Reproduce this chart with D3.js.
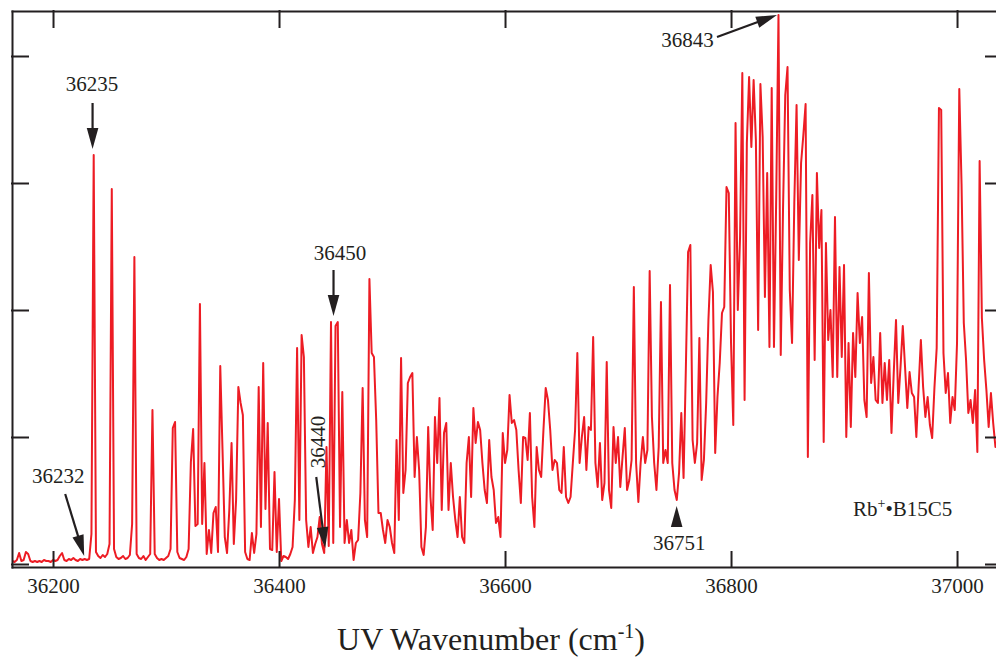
<!DOCTYPE html>
<html>
<head>
<meta charset="utf-8">
<script src="https://cdn.jsdelivr.net/npm/d3@7"></script>
<style>
  body { margin: 0; background: #fff; }
  svg { display: block; font-family: "Liberation Serif", "Times New Roman", serif; }
</style>
</head>
<body>
<script>
var width = 996;
var height = 662;
var ink = '#231f20';
var red = '#ed1c24';

// spectrum sampled every 2 cm-1, intensity in arbitrary units
var wnStep = 2;
var band1 = [ // from 36164
  3, 2, 4, 11, 3, 4, 12, 10, 3, 2,
  3, 2, 3, 2, 4, 3, 3, 2, 4, 3,
  4, 8, 11, 4, 3, 5, 4, 6, 4, 3,
  5, 4, 5, 4, 5, 30, 409, 12, 8, 6,
  9, 7, 10, 20, 375, 15, 7, 5, 6, 8,
  5, 6, 9, 40, 307, 10, 6, 5, 8, 4,
  7, 10, 154, 10, 6, 4, 5, 4, 6, 8,
  15, 136, 142, 12, 6, 5, 4, 7, 15, 102,
  135, 38, 40, 260, 40, 101];
var band2 = [ // from 36336
  10, 34, 11, 51, 57, 12, 198, 114, 27, 11,
  54, 121, 20, 64, 177, 161, 149, 12, 5, 4,
  31, 11, 30, 177, 37, 201, 55, 141, 15, 14,
  92, 12, 65, 3, 8, 7, 5, 10, 17, 64,
  216, 44, 229, 207, 44, 17, 37, 11, 20, 27,
  47, 20, 11, 117, 18, 242, 21, 238, 242, 37,
  172, 21, 44, 21, 34, 4, 21, 24, 71, 176,
  44, 27, 285, 211, 207, 144, 51, 51, 34, 21,
  44, 37];
var band3 = [ // from 36500
  21, 11, 124, 44, 206, 71, 94, 181, 187, 191,
  87, 127, 94, 17, 9, 37, 137, 67, 34, 147,
  101, 166, 54, 131, 141, 54, 101, 67, 44, 27,
  67, 27, 21, 101, 127, 67, 156, 121, 142, 134,
  101, 74, 61, 124, 87, 74, 41, 47, 27, 131,
  101, 114, 169, 141, 144, 134, 94, 61, 127, 126,
  104, 151, 67, 37, 117, 94, 87, 134, 176, 164,
  134, 94, 104, 101, 74, 71, 117, 67, 61, 67,
  101, 134, 211, 101, 127, 147, 94, 137, 134, 227,
  101, 77, 121, 64, 81, 202, 74, 56, 137, 101];
var band4 = [ // from 36700
  127, 77, 107, 136, 74, 84, 104, 277, 101, 62,
  101, 127, 101, 114, 293, 147, 101, 74, 117, 262,
  101, 114, 101, 279, 101, 74, 64, 91, 151, 86,
  194, 312, 319, 124, 101, 121, 226, 84, 104, 161,
  244, 299, 272, 111, 167, 201, 251, 257, 377, 371,
  221, 139, 441, 254, 327, 491, 164, 421, 487, 417,
  484, 424, 234, 480, 427, 267, 391, 217, 476, 217,
  367, 549, 209, 354, 469, 497, 274, 221, 361, 459,
  304, 401, 429, 460, 107, 321, 369, 204, 391, 316,
  354, 122, 321, 224, 254, 187, 347, 187, 297, 207];
var band5 = [ // from 36900
  299, 127, 221, 137, 231, 187, 271, 221, 247, 164,
  147, 291, 181, 207, 164, 161, 231, 161, 201, 164,
  204, 131, 191, 244, 161, 197, 238, 197, 156, 192,
  171, 167, 127, 177, 224, 177, 147, 167, 139, 126,
  176, 216, 456, 454, 211, 171, 191, 141, 167, 154,
  221, 475, 380, 241, 204, 151, 164, 141, 174, 112,
  403, 246, 204, 174, 137, 171, 141, 117, 120];
var bandStarts = [36164, 36336, 36500, 36700, 36900];

var xTicks = [36200, 36400, 36600, 36800, 37000];
var yTicks = [0, 127, 254, 381, 508];
var peakLabels = ['36235', '36232', '36440', '36450', '36751', '36843'];
var peakWn = [36235, 36232, 36440, 36450, 36751, 36843];

var spectrum = [];
[band1, band2, band3, band4, band5].forEach(function (b, k) {
  b.forEach(function (v, i) {
    spectrum.push([bandStarts[k] + i * wnStep, v]);
  });
});

var svg = d3.select('body')
            .append('svg')
            .attr('width', width)
            .attr('height', height);

var plot = { left: 12, right: 1002, top: 11, bottom: 567 };

var xScale = d3.scaleLinear()
               .domain([36163.7, 37039.8])
               .range([plot.left, plot.right]);
var yScale = d3.scaleLinear()
               .domain([-3, 553])
               .range([plot.bottom, plot.top]);

svg.append('clipPath').attr('id', 'clip')
   .append('rect')
   .attr('x', plot.left).attr('y', plot.top)
   .attr('width', plot.right - plot.left)
   .attr('height', plot.bottom - plot.top);

var line = d3.line()
             .x(function (d) { return xScale(d[0]); })
             .y(function (d) { return yScale(d[1]); });

svg.append('path')
   .datum(spectrum)
   .attr('clip-path', 'url(#clip)')
   .attr('d', line)
   .attr('fill', 'none')
   .attr('stroke', red)
   .attr('stroke-width', 2)
   .attr('stroke-linejoin', 'round');

// frame: four axes with inward ticks
function styleAxis(g) {
  g.selectAll('path, line').attr('stroke', ink).attr('stroke-width', 2)
   .attr('stroke-linecap', 'square');
  g.attr('font-family', '"Liberation Serif", serif').attr('font-size', 21);
  g.selectAll('text').attr('fill', ink);
}

svg.append('g')
   .attr('transform', 'translate(0,' + plot.bottom + ')')
   .call(d3.axisBottom(xScale).tickValues(xTicks).tickFormat(d3.format('d'))
           .tickSizeInner(-15).tickSizeOuter(0).tickPadding(11))
   .call(styleAxis);
svg.append('g')
   .attr('transform', 'translate(0,' + plot.top + ')')
   .call(d3.axisTop(xScale).tickValues(xTicks).tickFormat('')
           .tickSizeInner(-16).tickSizeOuter(0))
   .call(styleAxis);
svg.append('g')
   .attr('transform', 'translate(' + plot.left + ',0)')
   .call(d3.axisLeft(yScale).tickValues(yTicks).tickFormat('')
           .tickSizeInner(-16).tickSizeOuter(0))
   .call(styleAxis);
svg.append('g')
   .attr('transform', 'translate(' + plot.right + ',0)')
   .call(d3.axisRight(yScale).tickValues(yTicks).tickFormat('')
           .tickSizeInner(-16).tickSizeOuter(0))
   .call(styleAxis);

// axis title
var title = svg.append('text')
               .attr('x', 491).attr('y', 650)
               .attr('text-anchor', 'middle')
               .attr('font-size', 32)
               .attr('fill', ink);
title.append('tspan').text('UV Wavenumber (cm');
title.append('tspan').attr('dy', -12).attr('font-size', 20).text('-1');
title.append('tspan').attr('dy', 12).text(')');

// arrows pointing at labelled bands
function arrow(x1, y1, x2, y2) {
  var len = Math.hypot(x2 - x1, y2 - y1);
  var ux = (x2 - x1) / len, uy = (y2 - y1) / len;
  var hl = 21, hw = 5.8;
  var bx = x2 - ux * hl, by = y2 - uy * hl;
  if (len > hl + 1) {
    svg.append('line')
       .attr('x1', x1).attr('y1', y1)
       .attr('x2', bx + ux * 2).attr('y2', by + uy * 2)
       .attr('stroke', ink).attr('stroke-width', 2.2);
  }
  svg.append('path')
     .attr('d', 'M' + x2 + ',' + y2 +
                'L' + (bx - uy * hw) + ',' + (by + ux * hw) +
                'L' + (bx + uy * hw) + ',' + (by - ux * hw) + 'Z')
     .attr('fill', ink);
}

// layout of the callouts: offsets from x(wn) and absolute y in px
var calloutLayout = [
  { tail: [0, 103], tip: [0, 149], label: [-0.5, 91], rotate: false },
  { tail: [-24, 494], tip: [-5, 556], label: [-31, 483], rotate: false },
  { tail: [-8, 477], tip: [1, 548], label: [1, 442], rotate: true },
  { tail: [-2, 270], tip: [-2, 316], label: [4.5, 260], rotate: false },
  { tail: [1, 528], tip: [1, 506], label: [3.5, 550], rotate: false },
  { tail: [-62.6, 37], tip: [-2.6, 15], label: [-92, 47], rotate: false }
];

peakLabels.forEach(function (lbl, i) {
  var c = calloutLayout[i];
  var x0 = xScale(peakWn[i]);
  arrow(x0 + c.tail[0], c.tail[1], x0 + c.tip[0], c.tip[1]);
  var t = svg.append('text')
             .attr('text-anchor', 'middle')
             .attr('font-size', 21)
             .attr('fill', ink)
             .text(lbl);
  if (c.rotate) {
    t.attr('transform', 'translate(' + (x0 + c.label[0]) + ',' + c.label[1] + ') rotate(-90)');
  } else {
    t.attr('x', x0 + c.label[0]).attr('y', c.label[1]);
  }
});

// species label
var species = svg.append('text')
                 .attr('x', 853).attr('y', 516)
                 .attr('font-size', 21)
                 .attr('fill', ink);
species.append('tspan').text('Rb');
species.append('tspan').attr('dy', -8).attr('font-size', 14).text('+');
species.append('tspan').attr('dy', 8).text('\u2022B15C5');
</script>
</body>
</html>
